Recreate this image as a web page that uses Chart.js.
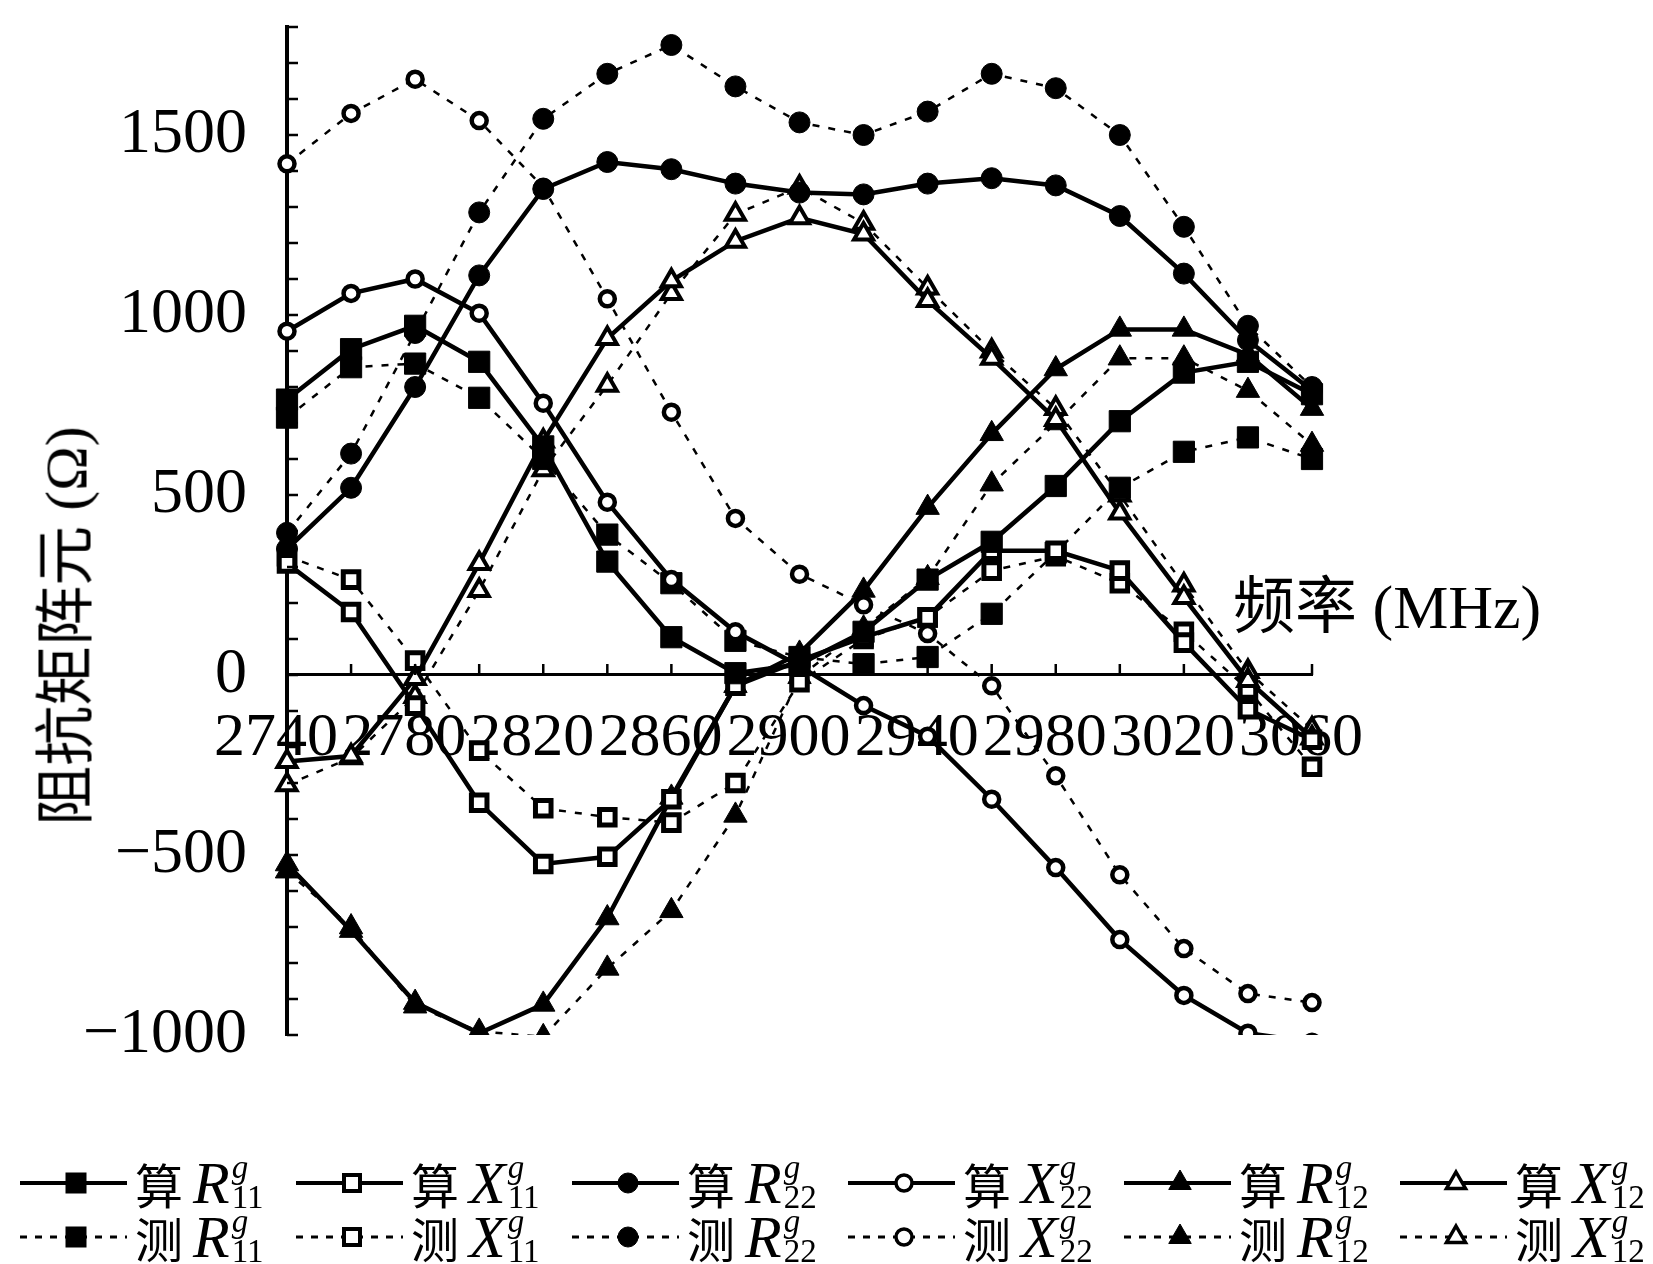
<!DOCTYPE html>
<html>
<head>
<meta charset="utf-8">
<script src="https://cdn.jsdelivr.net/npm/chart.js@4.4.1/dist/chart.umd.min.js"></script>
<style>
    html, body { margin: 0; padding: 0; background: #fff; }
    #wrap { position: relative; width: 1653px; height: 1264px; overflow: hidden; }
    #chart { position: absolute; left: 0; top: 0; }
    .ytitle {
        position: absolute; left: 60px; top: 626px;
        transform: translate(-50%, -50%) rotate(-90deg);
        white-space: nowrap; color: #000;
        font: 60px "Liberation Serif", "Noto Sans CJK SC", serif;
    }
    .xtitle {
        position: absolute; left: 1233px; top: 556px; white-space: nowrap; color: #000;
        font: 62px "Liberation Serif", "Noto Sans CJK SC", serif;
    }
    .li { position: absolute; height: 56px; display: flex; align-items: center; white-space: nowrap; }
    .li svg { display: block; }
    .cn { font: 48px "Noto Sans CJK SC", sans-serif; margin-left: 5px; }
    .sym { font: italic 60px "Liberation Serif", serif; margin-left: 10px; }
    .idx { display: inline-flex; flex-direction: column; margin-left: 2px; font: 33px "Liberation Serif", serif; line-height: 0.9; }
    .idx .g { font-style: italic; }
</style>
</head>
<body>
<div id="wrap">
    <canvas id="chart" width="1653" height="1264"></canvas>
    <div class="ytitle">阻抗矩阵元 (Ω)</div>
    <div class="xtitle">频率 (MHz)</div>
    <div id="legend"></div>
</div>
<script>
// frequency points (MHz)
const freqs = ['2740', '2760', '2780', '2800', '2820', '2840', '2860', '2880', '2900',
    '2920', '2940', '2960', '2980', '3000', '3020', '3040', '3060'];
const xTickLabels = ['2740', '2780', '2820', '2860', '2900', '2940', '2980', '3020', '3060'];
const yTickLabels = [-1000, -500, 0, 500, 1000, 1500];

// 算 = calculated (solid), 测 = measured (dotted)
const calcR11 = [765, 905, 970, 870, 635, 315, 105, 5, 30, 120, 265, 370, 525, 705, 840, 870, 780];
const measR11 = [715, 855, 865, 770, 600, 390, 255, 95, 50, 30, 50, 170, 340, 520, 620, 660, 600];
const calcX11 = [310, 175, -85, -355, -525, -505, -345, -30, 40, 105, 160, 345, 345, 290, 90, -95, -180];
const measX11 = [330, 265, 40, -210, -370, -395, -410, -300, -20, 100, 160, 290, 330, 255, 120, -40, -255];
const calcR22 = [350, 520, 800, 1110, 1350, 1425, 1405, 1365, 1340, 1335, 1365, 1380, 1360, 1275, 1115, 930, 790];
const measR22 = [395, 615, 950, 1285, 1545, 1670, 1750, 1635, 1535, 1500, 1565, 1670, 1630, 1500, 1245, 970, 800];
const calcX22 = [955, 1060, 1100, 1005, 755, 480, 265, 120, 25, -85, -170, -345, -535, -735, -890, -995, -1020];
const measX22 = [1420, 1560, 1655, 1540, 1355, 1045, 730, 435, 280, 195, 115, -30, -280, -555, -760, -885, -910];
const calcR12 = [-525, -710, -910, -995, -915, -675, -340, -30, 60, 235, 465, 670, 850, 960, 960, 890, 740];
const measR12 = [-545, -700, -920, -990, -1005, -815, -655, -390, -5, 130, 270, 530, 700, 880, 880, 790, 640];
const calcX12 = [-240, -225, -10, 310, 650, 935, 1095, 1205, 1270, 1225, 1040, 880, 710, 450, 215, -15, -175];
const measX12 = [-305, -230, -60, 235, 570, 805, 1060, 1280, 1355, 1255, 1075, 900, 740, 500, 250, 10, -150];

const SERIES = [
    { kind: '算', sym: 'R', idx: '11', data: calcR11, shape: 'rect', filled: true, dotted: false },
    { kind: '算', sym: 'X', idx: '11', data: calcX11, shape: 'rect', filled: false, dotted: false },
    { kind: '算', sym: 'R', idx: '22', data: calcR22, shape: 'circle', filled: true, dotted: false },
    { kind: '算', sym: 'X', idx: '22', data: calcX22, shape: 'circle', filled: false, dotted: false },
    { kind: '算', sym: 'R', idx: '12', data: calcR12, shape: 'triangle', filled: true, dotted: false },
    { kind: '算', sym: 'X', idx: '12', data: calcX12, shape: 'triangle', filled: false, dotted: false },
    { kind: '测', sym: 'R', idx: '11', data: measR11, shape: 'rect', filled: true, dotted: true },
    { kind: '测', sym: 'X', idx: '11', data: measX11, shape: 'rect', filled: false, dotted: true },
    { kind: '测', sym: 'R', idx: '22', data: measR22, shape: 'circle', filled: true, dotted: true },
    { kind: '测', sym: 'X', idx: '22', data: measX22, shape: 'circle', filled: false, dotted: true },
    { kind: '测', sym: 'R', idx: '12', data: measR12, shape: 'triangle', filled: true, dotted: true },
    { kind: '测', sym: 'X', idx: '12', data: measX12, shape: 'triangle', filled: false, dotted: true },
];

const DASH = [7, 9];
// marker radius / border per shape (filled vs open)
const MARK = {
    rect: { filled: [15, 1], open: [11, 5] },
    circle: { filled: [10.5, 1], open: [7.5, 4.5] },
    triangle: { filled: [13.5, 1], open: [11, 4] },
};

const mkDataset = (s) => {
    const [r, bw] = MARK[s.shape][s.filled ? 'filled' : 'open'];
    return {
        label: s.kind + s.sym + s.idx,
        data: s.data,
        borderColor: '#000',
        borderWidth: s.dotted ? 2.5 : 4.5,
        borderDash: s.dotted ? DASH : [],
        pointStyle: s.shape,
        pointRadius: r,
        pointBorderWidth: bw,
        pointBorderColor: '#000',
        pointBackgroundColor: s.filled ? '#000' : '#fff',
        fill: false,
        tension: 0,
    };
};

// small inward tick marks on both axes, taken from the scales
const axisTicks = {
    id: 'axisTicks',
    afterDraw(chart) {
        const { ctx, scales: { x, y } } = chart;
        const x0 = chart.chartArea.left;
        const y0 = y.getPixelForValue(0);
        ctx.save();
        ctx.strokeStyle = '#000';
        ctx.lineWidth = 2.5;
        ctx.beginPath();
        y.ticks.forEach(t => {
            const py = y.getPixelForValue(t.value);
            ctx.moveTo(x0, py); ctx.lineTo(x0 + 11, py);
        });
        x.ticks.forEach((t, i) => {
            const px = x.getPixelForValue(i);
            ctx.moveTo(px, y0); ctx.lineTo(px, y0 - 11);
        });
        ctx.stroke();
        ctx.restore();
    }
};

new Chart(document.getElementById('chart'), {
    type: 'line',
    data: { labels: freqs, datasets: SERIES.map(mkDataset) },
    options: {
        responsive: false,
        animation: false,
        devicePixelRatio: 1,
        layout: { padding: { left: 0, top: 27, right: 341, bottom: 229 } },
        plugins: { legend: { display: false }, tooltip: { enabled: false } },
        scales: {
            x: {
                type: 'category',
                position: { y: 0 },
                offset: false,
                grid: { display: false, drawTicks: false },
                border: { display: true, color: '#000', width: 3 },
                afterFit: (s) => { s.height = 0; s.paddingLeft = 0; s.paddingRight = 0; },
                ticks: {
                    autoSkip: false, maxRotation: 0, padding: 27, labelOffset: -11,
                    color: '#000',
                    font: { family: '"Liberation Serif", serif', size: 62 },
                    callback: function (v) {
                        const lab = this.getLabelForValue(v);
                        return xTickLabels.includes(lab) ? lab : '';
                    }
                }
            },
            y: {
                type: 'linear',
                min: -1000, max: 1800,
                grid: { display: false, drawTicks: false },
                border: { display: true, color: '#000', width: 4 },
                afterFit: (s) => { s.width = 287; s.paddingTop = 0; s.paddingBottom = 0; },
                ticks: {
                    stepSize: 100, autoSkip: false, padding: 40,
                    color: '#000',
                    font: { family: '"Liberation Serif", serif', size: 64 },
                    callback: (v) => yTickLabels.includes(v) ? (v < 0 ? '\u2212' + Math.abs(v) : String(v)) : ''
                }
            }
        }
    },
    plugins: [axisTicks]
});

// --- legend (html so the sub/superscripts stay real text) ---
const markerSvg = (s, cx, cy) => {
    const fill = s.filled ? '#000' : '#fff';
    if (s.shape === 'rect') {
        const h = s.filled ? 10 : 8;
        return `<rect x="${cx - h}" y="${cy - h}" width="${2 * h}" height="${2 * h}" fill="${fill}" stroke="#000" stroke-width="${s.filled ? 1 : 4}"/>`;
    }
    if (s.shape === 'circle') {
        return `<circle cx="${cx}" cy="${cy}" r="${s.filled ? 10 : 8}" fill="${fill}" stroke="#000" stroke-width="${s.filled ? 1 : 3.5}"/>`;
    }
    const r = s.filled ? 13 : 11;
    const pts = [[cx, cy - r], [cx + r * 0.866, cy + r / 2], [cx - r * 0.866, cy + r / 2]].map(p => p.join(',')).join(' ');
    return `<polygon points="${pts}" fill="${fill}" stroke="#000" stroke-width="${s.filled ? 1 : 3.5}"/>`;
};

const legend = document.getElementById('legend');
SERIES.forEach((s, k) => {
    const col = k % 6, row = Math.floor(k / 6);
    const item = document.createElement('div');
    item.className = 'li';
    item.style.left = (col * 276) + 'px';
    item.style.top = (row === 0 ? 1155 : 1209) + 'px';
    const dash = s.dotted ? ' stroke-dasharray="7 8"' : '';
    item.innerHTML =
        `<svg width="130" height="56"><line x1="20" y1="28" x2="127" y2="28" stroke="#000" stroke-width="${s.dotted ? 3 : 4}"${dash}/>` +
        markerSvg(s, 76, 28) + `</svg>` +
        `<span class="cn">${s.kind}</span><span class="sym">${s.sym}</span>` +
        `<span class="idx"><span class="g">g</span><span class="n">${s.idx}</span></span>`;
    legend.appendChild(item);
});
</script>
</body>
</html>
